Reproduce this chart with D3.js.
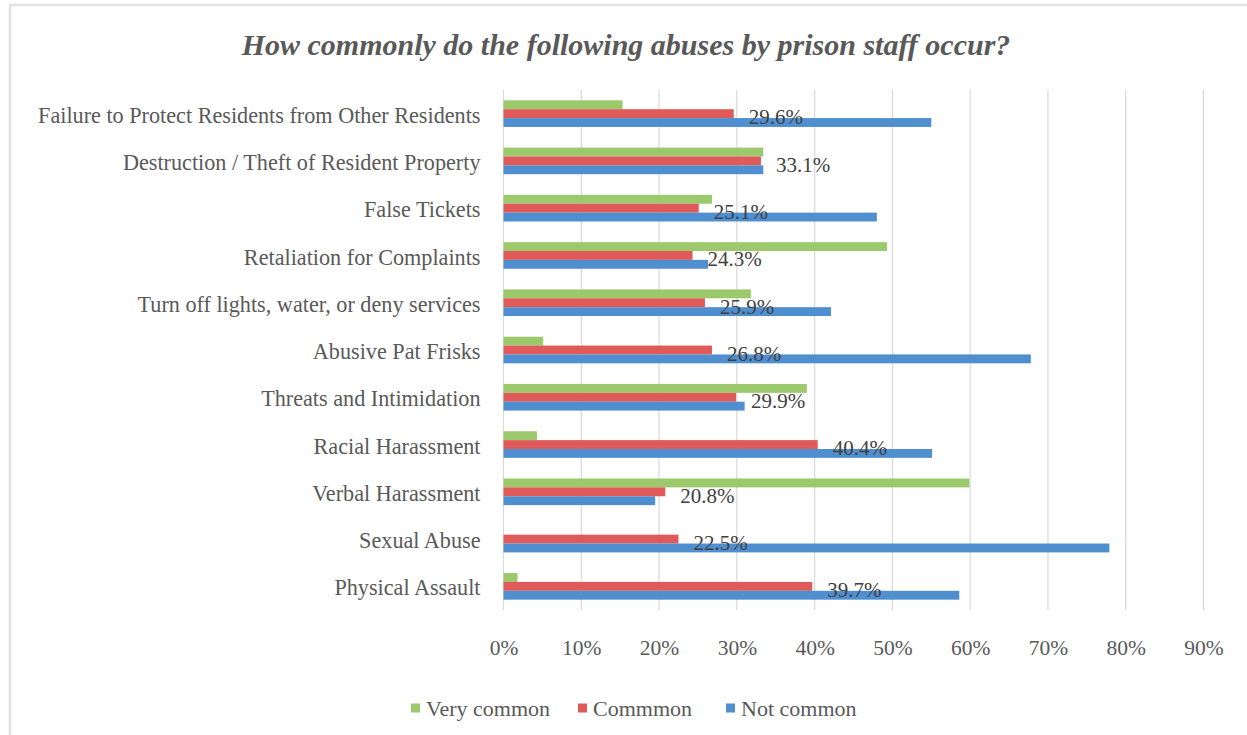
<!DOCTYPE html>
<html>
<head>
<meta charset="utf-8">
<script src="https://cdn.jsdelivr.net/npm/d3@7"></script>
<style>
  html, body { margin: 0; padding: 0; background: #fff; }
  svg { display: block; }
</style>
</head>
<body>
<svg id="chart" width="1247" height="735"></svg>
<script>
// Survey responses: how commonly each abuse by prison staff occurs (share of respondents)
const categories = [
  "Failure to Protect Residents from Other Residents",
  "Destruction / Theft of Resident Property",
  "False Tickets",
  "Retaliation for Complaints",
  "Turn off lights, water, or deny services",
  "Abusive Pat Frisks",
  "Threats and Intimidation",
  "Racial Harassment",
  "Verbal Harassment",
  "Sexual Abuse",
  "Physical Assault"
];
const seriesNames = ["Very common", "Commmon", "Not common"];
const veryCommon = [15.3, 33.4, 26.8, 49.3, 31.8, 5.1, 39.0, 4.3, 59.9, 0, 1.8];
const common     = [29.6, 33.1, 25.1, 24.3, 25.9, 26.8, 29.9, 40.4, 20.8, 22.5, 39.7];
const notCommon  = [55.0, 33.4, 48.0, 26.3, 42.1, 67.8, 31.0, 55.1, 19.5, 77.9, 58.6];
const tickValues = [0, 10, 20, 30, 40, 50, 60, 70, 80, 90];
const colors = ["#9cc96b", "#df5a58", "#4f8ecf"];

const seriesValues = [veryCommon, common, notCommon];
const rows = categories.map((c, i) => ({
  category: c,
  values: seriesNames.map((s, k) => ({ series: s, value: seriesValues[k][i], k }))
}));

const svg = d3.select("#chart");
const font = "'Liberation Serif', 'Times New Roman', Times, serif";

// chart frame
svg.append("rect")
  .attr("x", 10).attr("y", 5)
  .attr("width", 1260).attr("height", 760)
  .attr("fill", "#fff")
  .attr("stroke", "#e2e2e2").attr("stroke-width", 2.5);

// title
svg.append("text")
  .attr("x", 626).attr("y", 55)
  .attr("text-anchor", "middle")
  .attr("font-family", font)
  .attr("font-size", 30)
  .attr("font-weight", "bold")
  .attr("font-style", "italic")
  .attr("fill", "#595959")
  .text("How commonly do the following abuses by prison staff occur?");

const plot = { left: 503.5, right: 1203.5, top: 90, bottom: 610 };

const x = d3.scaleLinear().domain([0, 90]).range([plot.left, plot.right]);
const y = d3.scaleBand().domain(categories)
  .range([plot.top, plot.bottom])
  .paddingInner(0.437).paddingOuter(0.2185);
const ySub = d3.scaleBand().domain(seriesNames).range([0, y.bandwidth()]);

// vertical gridlines
svg.append("g")
  .selectAll("line")
  .data(tickValues)
  .join("line")
  .attr("x1", d => x(d)).attr("x2", d => x(d))
  .attr("y1", plot.top).attr("y2", plot.bottom)
  .attr("stroke", "#d9d9d9").attr("stroke-width", 1.2);

// x axis labels
const xAxis = d3.axisBottom(x)
  .tickValues(tickValues)
  .tickFormat(d => d + "%")
  .tickSize(0)
  .tickPadding(0);
const gx = svg.append("g")
  .attr("transform", `translate(0, ${plot.bottom + 30})`)
  .call(xAxis);
gx.select(".domain").remove();
gx.selectAll("text")
  .attr("font-family", font)
  .attr("font-size", 21.5)
  .attr("fill", "#595959");

// category labels
const yAxis = d3.axisLeft(y).tickSize(0).tickPadding(23);
const gy = svg.append("g")
  .attr("transform", `translate(${plot.left}, 2)`)
  .call(yAxis);
gy.select(".domain").remove();
gy.selectAll("text")
  .attr("font-family", font)
  .attr("font-size", 22.2)
  .attr("fill", "#595959");

// bars
const groups = svg.append("g")
  .selectAll("g")
  .data(rows)
  .join("g")
  .attr("transform", d => `translate(0, ${y(d.category)})`);

groups.selectAll("rect")
  .data(d => d.values)
  .join("rect")
  .attr("x", x(0))
  .attr("y", d => ySub(d.series))
  .attr("width", d => x(d.value) - x(0))
  .attr("height", ySub.bandwidth())
  .attr("fill", d => colors[d.k]);

// value labels for the "Commmon" series
groups.append("text")
  .attr("x", d => x(d.values[1].value) + 15)
  .attr("y", ySub("Commmon") + ySub.bandwidth() / 2 + 3.5)
  .attr("dy", "0.35em")
  .attr("font-family", font)
  .attr("font-size", 21)
  .attr("fill", "#404040")
  .text(d => d.values[1].value.toFixed(1) + "%");

// legend
const legendX = [411, 578, 726];
const legend = svg.append("g")
  .selectAll("g")
  .data(seriesNames)
  .join("g")
  .attr("transform", (d, i) => `translate(${legendX[i]}, 708)`);
legend.append("rect")
  .attr("x", 0).attr("y", -4.5)
  .attr("width", 9).attr("height", 9)
  .attr("fill", (d, i) => colors[i]);
legend.append("text")
  .attr("x", 15).attr("y", 0)
  .attr("dy", "0.35em")
  .attr("font-family", font)
  .attr("font-size", 22)
  .attr("fill", "#595959")
  .text(d => d);
</script>
</body>
</html>
